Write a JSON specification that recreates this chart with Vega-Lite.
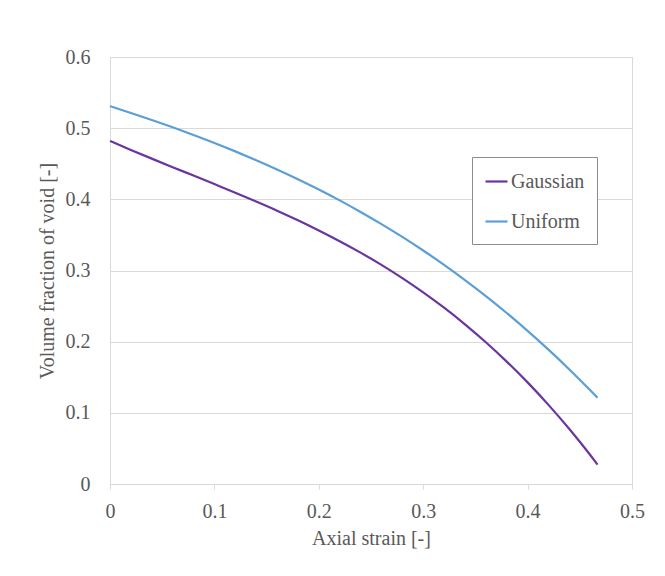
{
  "$schema": "https://vega.github.io/schema/vega-lite/v6.json",
  "width": 522,
  "height": 427,
  "autosize": {"type": "none"},
  "padding": {"left": 110, "top": 57, "right": 33, "bottom": 92},
  "background": "white",
  "config": {
    "view": {"stroke": "#d9d9d9", "strokeWidth": 1},
    "font": "Liberation Serif"
  },
  "data": {
    "values": [
      {"x": 0, "v": 0.482, "s": "Gaussian"},
      {"x": 0.02, "v": 0.4694, "s": "Gaussian"},
      {"x": 0.04, "v": 0.4572, "s": "Gaussian"},
      {"x": 0.06, "v": 0.4452, "s": "Gaussian"},
      {"x": 0.08, "v": 0.4334, "s": "Gaussian"},
      {"x": 0.10, "v": 0.4214, "s": "Gaussian"},
      {"x": 0.12, "v": 0.4093, "s": "Gaussian"},
      {"x": 0.14, "v": 0.3969, "s": "Gaussian"},
      {"x": 0.16, "v": 0.3841, "s": "Gaussian"},
      {"x": 0.18, "v": 0.3706, "s": "Gaussian"},
      {"x": 0.20, "v": 0.3563, "s": "Gaussian"},
      {"x": 0.22, "v": 0.3412, "s": "Gaussian"},
      {"x": 0.24, "v": 0.3251, "s": "Gaussian"},
      {"x": 0.26, "v": 0.3079, "s": "Gaussian"},
      {"x": 0.28, "v": 0.2893, "s": "Gaussian"},
      {"x": 0.30, "v": 0.2693, "s": "Gaussian"},
      {"x": 0.32, "v": 0.2477, "s": "Gaussian"},
      {"x": 0.34, "v": 0.2244, "s": "Gaussian"},
      {"x": 0.36, "v": 0.1992, "s": "Gaussian"},
      {"x": 0.38, "v": 0.1720, "s": "Gaussian"},
      {"x": 0.40, "v": 0.1428, "s": "Gaussian"},
      {"x": 0.42, "v": 0.1112, "s": "Gaussian"},
      {"x": 0.44, "v": 0.0772, "s": "Gaussian"},
      {"x": 0.46, "v": 0.0407, "s": "Gaussian"},
      {"x": 0.467, "v": 0.0272, "s": "Gaussian"},
      {"x": 0, "v": 0.531, "s": "Uniform"},
      {"x": 0.02, "v": 0.5214, "s": "Uniform"},
      {"x": 0.04, "v": 0.5115, "s": "Uniform"},
      {"x": 0.06, "v": 0.5012, "s": "Uniform"},
      {"x": 0.08, "v": 0.4904, "s": "Uniform"},
      {"x": 0.10, "v": 0.4792, "s": "Uniform"},
      {"x": 0.12, "v": 0.4674, "s": "Uniform"},
      {"x": 0.14, "v": 0.4550, "s": "Uniform"},
      {"x": 0.16, "v": 0.4420, "s": "Uniform"},
      {"x": 0.18, "v": 0.4283, "s": "Uniform"},
      {"x": 0.20, "v": 0.4138, "s": "Uniform"},
      {"x": 0.22, "v": 0.3985, "s": "Uniform"},
      {"x": 0.24, "v": 0.3823, "s": "Uniform"},
      {"x": 0.26, "v": 0.3652, "s": "Uniform"},
      {"x": 0.28, "v": 0.3472, "s": "Uniform"},
      {"x": 0.30, "v": 0.3281, "s": "Uniform"},
      {"x": 0.32, "v": 0.3079, "s": "Uniform"},
      {"x": 0.34, "v": 0.2866, "s": "Uniform"},
      {"x": 0.36, "v": 0.2641, "s": "Uniform"},
      {"x": 0.38, "v": 0.2403, "s": "Uniform"},
      {"x": 0.40, "v": 0.2152, "s": "Uniform"},
      {"x": 0.42, "v": 0.1888, "s": "Uniform"},
      {"x": 0.44, "v": 0.1610, "s": "Uniform"},
      {"x": 0.46, "v": 0.1317, "s": "Uniform"},
      {"x": 0.467, "v": 0.1211, "s": "Uniform"}
    ]
  },
  "mark": {"type": "line", "strokeWidth": 2.2, "interpolate": "monotone"},
  "encoding": {
    "x": {
      "field": "x", "type": "quantitative",
      "scale": {"domain": [0, 0.5], "nice": false, "zero": false},
      "axis": {
        "title": "Axial strain [-]",
        "values": [0, 0.1, 0.2, 0.3, 0.4, 0.5],
        "format": ".1~f",
        "grid": false,
        "labelFlush": false,
        "domainColor": "#d9d9d9",
        "ticks": true, "tickColor": "#d9d9d9", "tickSize": 5,
        "labelFont": "Liberation Serif", "labelFontSize": 20, "labelColor": "#595959",
        "labelPadding": 12,
        "titleFont": "Liberation Serif", "titleFontSize": 20, "titleFontWeight": "normal", "titleColor": "#595959",
        "titlePadding": 7
      }
    },
    "y": {
      "field": "v", "type": "quantitative",
      "scale": {"domain": [0, 0.6], "nice": false},
      "axis": {
        "title": "Volume fraction of void [-]",
        "values": [0, 0.1, 0.2, 0.3, 0.4, 0.5, 0.6],
        "format": ".1~f",
        "grid": true, "gridColor": "#d9d9d9", "gridWidth": 1,
        "labelFlush": false,
        "domainColor": "#d9d9d9",
        "ticks": false,
        "labelFont": "Liberation Serif", "labelFontSize": 20, "labelColor": "#595959",
        "labelPadding": 20,
        "titleFont": "Liberation Serif", "titleFontSize": 20, "titleFontWeight": "normal", "titleColor": "#595959",
        "titlePadding": 8
      }
    },
    "color": {
      "field": "s", "type": "nominal",
      "scale": {"domain": ["Gaussian", "Uniform"], "range": ["#6a35a0", "#5b9fd6"]},
      "legend": {
        "title": null,
        "orient": "none",
        "legendX": 362,
        "legendY": 100,
        "symbolType": "stroke",
        "symbolSize": 484,
        "symbolStrokeWidth": 2.2,
        "labelFont": "Liberation Serif", "labelFontSize": 20, "labelColor": "#595959",
        "labelOffset": 2,
        "padding": 12,
        "rowPadding": 17,
        "strokeColor": "#8c8c8c",
        "fillColor": "white"
      }
    }
  }
}
